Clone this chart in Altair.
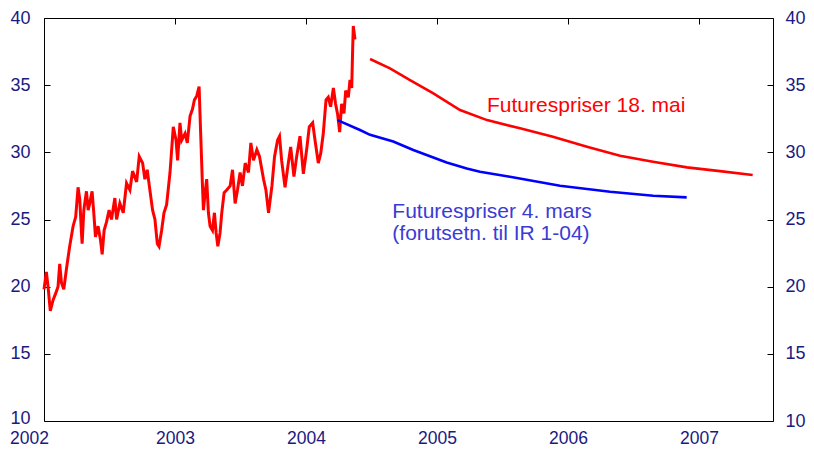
import altair as alt
import pandas as pd

# ---------------- data ----------------
spot_year = [2002.000, 2002.018, 2002.031, 2002.048, 2002.069, 2002.089, 2002.107, 2002.120, 2002.133, 2002.151,
             2002.171, 2002.196, 2002.222, 2002.242, 2002.260, 2002.273, 2002.286, 2002.291, 2002.304, 2002.324,
             2002.337, 2002.349, 2002.367, 2002.380, 2002.393, 2002.413, 2002.431, 2002.444, 2002.459, 2002.477,
             2002.497, 2002.515, 2002.541, 2002.554, 2002.579, 2002.605, 2002.630, 2002.656, 2002.676, 2002.707,
             2002.727, 2002.753, 2002.770, 2002.788, 2002.804, 2002.829, 2002.847, 2002.865, 2002.878, 2002.898,
             2002.916, 2002.936, 2002.962, 2002.987, 2003.008, 2003.020, 2003.038, 2003.051, 2003.077, 2003.094,
             2003.115, 2003.133, 2003.148, 2003.166, 2003.184, 2003.196, 2003.209, 2003.217, 2003.230, 2003.242,
             2003.255, 2003.268, 2003.286, 2003.301, 2003.314, 2003.327, 2003.344, 2003.357, 2003.375, 2003.395,
             2003.421, 2003.439, 2003.459, 2003.477, 2003.497, 2003.515, 2003.536, 2003.561, 2003.579, 2003.599,
             2003.625, 2003.645, 2003.676, 2003.694, 2003.714, 2003.740, 2003.760, 2003.783, 2003.798, 2003.814,
             2003.840, 2003.865, 2003.883, 2003.908, 2003.929, 2003.954, 2003.980, 2004.005, 2004.025, 2004.051,
             2004.069, 2004.094, 2004.112, 2004.132, 2004.153, 2004.170, 2004.188, 2004.209, 2004.226, 2004.242,
             2004.257, 2004.272, 2004.290, 2004.303, 2004.323, 2004.336, 2004.349, 2004.356, 2004.361, 2004.374]
spot_price = [19.8, 21.1, 20.0, 18.2, 19.0, 19.5, 20.0, 21.7, 20.3, 19.8,
              21.3, 23.0, 24.5, 25.2, 27.4, 26.5, 24.0, 23.2, 25.7, 27.1,
              25.7, 26.2, 27.1, 25.5, 23.7, 24.5, 23.5, 22.4, 24.2, 24.8,
              25.7, 25.0, 26.6, 25.0, 26.2, 25.5, 27.7, 27.2, 28.6, 27.8,
              29.7, 29.2, 28.0, 28.7, 27.5, 25.7, 25.0, 23.2, 23.0, 24.2,
              25.5, 26.1, 28.5, 31.9, 30.9, 29.4, 32.2, 30.9, 31.4, 30.7,
              32.7, 33.2, 33.9, 34.2, 34.9, 31.4, 27.7, 25.7, 27.0, 28.0,
              25.5, 24.5, 24.2, 25.5, 24.0, 23.0, 24.0, 25.5, 27.0, 27.2,
              27.5, 28.7, 26.2, 27.2, 28.5, 27.5, 29.2, 28.5, 30.7, 29.4,
              30.2, 29.7, 28.0, 27.2, 25.5, 27.5, 29.7, 30.9, 31.2, 29.4,
              27.4, 29.2, 30.4, 28.2, 29.7, 31.2, 28.4, 30.2, 31.9, 32.2,
              30.9, 29.2, 29.9, 31.4, 33.9, 34.1, 33.4, 34.8, 33.6, 32.8,
              31.5, 33.6, 32.9, 34.6, 34.1, 35.4, 34.8, 37.6, 39.4, 38.4]

fut_may_year = [2004.489, 2004.641, 2004.794, 2004.969, 2005.176, 2005.382, 2005.634,
                2005.885, 2006.145, 2006.397, 2006.649, 2006.908, 2007.160, 2007.410]
fut_may_price = [36.95, 36.25, 35.38, 34.4, 33.15, 32.4, 31.79,
                 31.16, 30.42, 29.75, 29.3, 28.88, 28.6, 28.31]

fut_mar_year = [2004.240, 2004.412, 2004.489, 2004.666, 2004.819, 2004.921, 2005.074,
                2005.227, 2005.328, 2005.557, 2005.939, 2006.321, 2006.651, 2006.906]
fut_mar_price = [32.4, 31.66, 31.3, 30.8, 30.17, 29.8, 29.25,
                 28.8, 28.56, 28.18, 27.51, 27.07, 26.77, 26.65]

x_ticks = [2002, 2003, 2004, 2005, 2006, 2007]
y_ticks = [10, 15, 20, 25, 30, 35, 40]
x_domain = [2002, 2007.565]
y_domain = [10, 40]

label_text = ["Futurespriser 18. mai", "Futurespriser 4. mars", "(forutsetn. til IR 1-04)"]
label_year = [2005.382, 2004.659, 2004.659]
label_price = [33.0, 25.09, 23.45]
label_color = ["#ff0000", "#3b3bd6", "#3b3bd6"]

# ---------------- tables ----------------
spot = pd.DataFrame({"year": spot_year, "price": spot_price})
fmay = pd.DataFrame({"year": fut_may_year, "price": fut_may_price})
fmar = pd.DataFrame({"year": fut_mar_year, "price": fut_mar_price})
labels = pd.DataFrame({"year": label_year, "price": label_price, "text": label_text, "color": label_color})

FONT = "Liberation Sans"
LABEL_COLOR = "#1a1a80"

xs = alt.Scale(domain=x_domain, nice=False, zero=False)
ys = alt.Scale(domain=y_domain, nice=False, zero=False)

common = dict(grid=False, title=None, labelFont=FONT, labelColor=LABEL_COLOR)

ax_x_labels = alt.Axis(values=x_ticks, format="d", ticks=False, tickSize=0, domain=False,
                       labelPadding=8, labelFontSize=17.5, labelFlush=False, labelOverlap=False,
                       labelAlign="center",
                       labelOffset={"condition": {"test": "datum.value == 2002", "value": -15}, "value": 0},
                       **common)
ax_x_ticks = alt.Axis(values=x_ticks, labels=False, domain=False, ticks=True, tickSize=6, offset=-6,
                      tickColor="black", grid=False, title=None)
ax_yl_labels = alt.Axis(values=y_ticks, orient="left", ticks=False, tickSize=0, domain=False,
                        labelPadding=14, labelFontSize=18, labelOverlap=False,
                        labelOffset={"condition": {"test": "datum.value == 10", "value": -3}, "value": 0},
                        **common)
ax_yr_labels = alt.Axis(values=y_ticks, orient="right", ticks=False, tickSize=0, domain=False,
                        labelPadding=12, labelFontSize=18, labelOverlap=False, **common)
ax_yl_ticks = alt.Axis(values=y_ticks, orient="left", labels=False, domain=False, ticks=True, tickSize=6,
                       offset=-6, tickColor="black", grid=False, title=None)
ax_yr_ticks = alt.Axis(values=y_ticks, orient="right", labels=False, domain=False, ticks=True, tickSize=6,
                       offset=-6, tickColor="black", grid=False, title=None)

spot_line = alt.Chart(spot).mark_line(color="#ff0000", strokeWidth=3).encode(
    x=alt.X("year:Q", scale=xs, axis=ax_x_labels),
    y=alt.Y("price:Q", scale=ys, axis=ax_yl_labels),
)
may_line = alt.Chart(fmay).mark_line(color="#ff0000", strokeWidth=2.6).encode(
    x=alt.X("year:Q", scale=xs, axis=ax_x_ticks),
    y=alt.Y("price:Q", scale=ys, axis=ax_yr_labels),
)
mar_line = alt.Chart(fmar).mark_line(color="#0000ff", strokeWidth=2.6).encode(
    x=alt.X("year:Q", scale=xs, axis=None),
    y=alt.Y("price:Q", scale=ys, axis=ax_yl_ticks),
)
text = alt.Chart(labels).mark_text(align="left", baseline="alphabetic", font=FONT, fontSize=21).encode(
    x=alt.X("year:Q", scale=xs, axis=None),
    y=alt.Y("price:Q", scale=ys, axis=ax_yr_ticks),
    text="text:N",
    color=alt.Color("color:N", scale=None),
)

chart = alt.layer(spot_line, may_line, mar_line, text).resolve_axis(
    x="independent", y="independent"
).properties(
    width=729, height=403,
    autosize=alt.AutoSizeParams(type="none"),
    padding={"left": 36, "top": 10, "right": 33, "bottom": 25},
    background="white",
).configure_view(stroke="black", strokeWidth=1)

chart.save("out.html", embed_options={"renderer": "svg", "actions": False})
